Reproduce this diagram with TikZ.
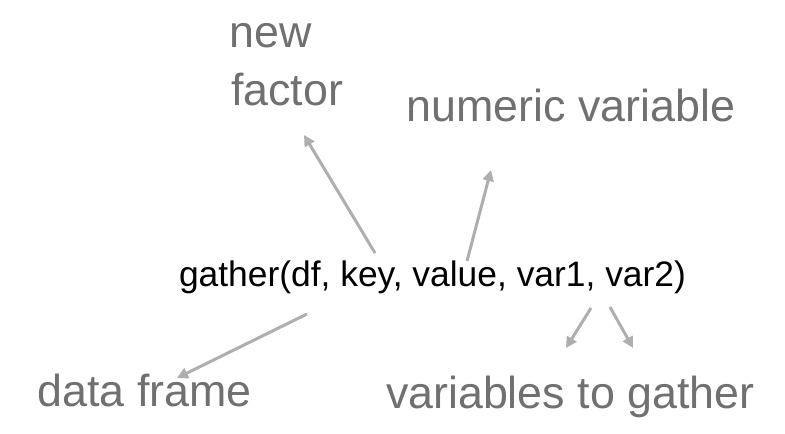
\documentclass[tikz,border=0pt]{standalone}
\usepackage{fontspec}
\setmainfont{Liberation Sans}
\usepackage{xcolor}
\definecolor{labelgray}{RGB}{112,112,112}
\definecolor{arrowgray}{RGB}{174,174,174}
\usetikzlibrary{arrows.meta,positioning}

\begin{document}
\begin{tikzpicture}[x=1bp, y=-1bp,
    every node/.style={inner sep=0pt, outer sep=0pt},
    call/.style={font=\fontsize{35.4bp}{42bp}\selectfont, text=black, anchor=base west},
    label/.style={font=\fontsize{44.8bp}{58bp}\selectfont, text=labelgray, anchor=base west},
    pointer/.style={draw=arrowgray, line width=3bp,
        -{Triangle[length=11bp, width=11bp]}}]
    \useasboundingbox (0,0) rectangle (785,434);
    % function call in the middle
    \node[call] (gather) at (179,287) {gather(df, key, value, var1, var2)};
    % labels around it
    \node[label] (new) at (229.5,48) {new};
    \node[label] (factor) at (231,106) {factor};
    \node[label] (numeric) at (406.5,122) {numeric variable};
    \node[label] (dataframe) at (37.5,406) {data frame};
    \node[label] (vars) at (386,408) {variables to gather};
    % arrow ends
    \coordinate (keyTop) at (375,253);
    \coordinate (factorTip) at (304,135);
    \coordinate (valueTop) at (467,261);
    \coordinate (numericTip) at (491,170);
    \coordinate (dfBottom) at (307,314);
    \coordinate (frameTip) at (177,378);
    \coordinate (varOneBottom) at (591,308);
    \coordinate (varOneTip) at (566,348);
    \coordinate (varTwoBottom) at (610,307);
    \coordinate (varTwoTip) at (633,348);
    % arrows
    \draw[pointer] (keyTop) -- (factorTip);
    \draw[pointer] (valueTop) -- (numericTip);
    \draw[pointer] (dfBottom) -- (frameTip);
    \draw[pointer] (varOneBottom) -- (varOneTip);
    \draw[pointer] (varTwoBottom) -- (varTwoTip);
\end{tikzpicture}
\end{document}
